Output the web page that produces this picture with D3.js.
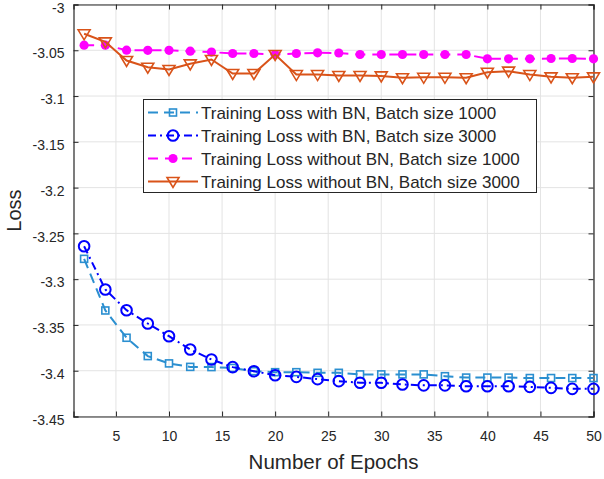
<!DOCTYPE html>
<html><head><meta charset="utf-8">
<script src="https://cdn.jsdelivr.net/npm/d3@7"></script>
<style>body{margin:0;background:#fff;} svg{display:block;font-family:"Liberation Sans",Arial,sans-serif;}</style>
</head><body><svg id="c" width="604" height="479"></svg>
<script>
const epochs = [2,4,6,8,10,12,14,16,18,20,22,24,26,28,30,32,34,36,38,40,42,44,46,48,50];
const bn1000 = [-3.2778,-3.3342,-3.364,-3.384,-3.392,-3.3958,-3.396,-3.397,-3.4005,-3.4016,-3.4016,-3.4023,-3.4023,-3.404,-3.404,-3.404,-3.404,-3.406,-3.4075,-3.4075,-3.4075,-3.408,-3.408,-3.408,-3.408];
const bn3000 = [-3.264,-3.3113,-3.3339,-3.3484,-3.3623,-3.3768,-3.3877,-3.3961,-3.4005,-3.4049,-3.4067,-3.4092,-3.4114,-3.4132,-3.4132,-3.415,-3.416,-3.416,-3.4169,-3.417,-3.417,-3.4176,-3.4187,-3.4198,-3.4198];
const noBn1000 = [-3.0444,-3.0444,-3.0499,-3.050,-3.050,-3.051,-3.052,-3.0535,-3.0535,-3.0546,-3.0535,-3.0528,-3.053,-3.0546,-3.0546,-3.0546,-3.0546,-3.0546,-3.0546,-3.0593,-3.0593,-3.0593,-3.059,-3.059,-3.0593];
const noBn3000 = [-3.032,-3.0408,-3.0612,-3.0685,-3.071,-3.0648,-3.0601,-3.0754,-3.0754,-3.0546,-3.0765,-3.0765,-3.0775,-3.0775,-3.078,-3.080,-3.0795,-3.0795,-3.080,-3.074,-3.0728,-3.0765,-3.079,-3.080,-3.079];
const xTicks = [5,10,15,20,25,30,35,40,45,50];
const yTicks = [-3,-3.05,-3.1,-3.15,-3.2,-3.25,-3.3,-3.35,-3.4,-3.45];
const seriesNames = ["Training Loss with BN, Batch size 1000","Training Loss with BN, Batch size 3000","Training Loss without BN, Batch size 1000","Training Loss without BN, Batch size 3000"];
const xLabel = "Number of Epochs", yLabel = "Loss";

const L=73.5, R=593.5, T=4.5, B=416.5;
const svg = d3.select("#c");
const x = d3.scaleLinear().domain([1,50]).range([L,R]);
const y = d3.scaleLinear().domain([-3.45,-3]).range([B,T]);
const axisCol = "#262626";

// grid
const g = svg.append("g");
g.selectAll(".gx").data(xTicks).join("line").attr("x1",d=>x(d)).attr("x2",d=>x(d)).attr("y1",T).attr("y2",B).attr("stroke","#e3e3e3").attr("stroke-width",1);
g.selectAll(".gy").data(yTicks).join("line").attr("x1",L).attr("x2",R).attr("y1",d=>y(d)).attr("y2",d=>y(d)).attr("stroke","#e3e3e3").attr("stroke-width",1);

// axes (ticks inward)
const fmt = d=>String(d);
const ax = svg.append("g").attr("transform",`translate(0,${B})`).call(d3.axisBottom(x).tickValues(xTicks).tickSize(-5).tickPadding(15).tickFormat(fmt));
const axT = svg.append("g").attr("transform",`translate(0,${T})`).call(d3.axisTop(x).tickValues(xTicks).tickSize(-5).tickFormat(""));
const ay = svg.append("g").attr("transform",`translate(${L},0)`).call(d3.axisLeft(y).tickValues(yTicks).tickSize(-5).tickPadding(9).tickFormat(fmt));
const ayR = svg.append("g").attr("transform",`translate(${R},0)`).call(d3.axisRight(y).tickValues(yTicks).tickSize(-5).tickFormat(""));
[ax,axT,ay,ayR].forEach(a=>{
  a.selectAll("path").attr("stroke",axisCol).attr("stroke-width",1.2);
  a.selectAll("line").attr("stroke",axisCol);
  a.selectAll("text").attr("fill",axisCol).style("font-size","14px").style("font-family","'Liberation Sans',Arial,sans-serif");
});
ay.selectAll("text").attr("dy","0.55em");

// labels
svg.append("text").attr("x",(L+R)/2).attr("y",469).attr("text-anchor","middle").attr("fill",axisCol).style("font-size","20.5px").text(xLabel);
svg.append("text").attr("transform",`translate(21,${(T+B)/2}) rotate(-90)`).attr("text-anchor","middle").attr("fill",axisCol).style("font-size","20px").text(yLabel);

const styles = [
  {data:bn1000, color:"#2b8fd0", dash:"10,6", marker:"square"},
  {data:bn3000, color:"#0000ff", dash:"8,4,2,4", marker:"circle"},
  {data:noBn1000, color:"#ff00ff", dash:"10,7", marker:"dot"},
  {data:noBn3000, color:"#d95319", dash:null, marker:"tri"}
];
const line = d3.line().x(d=>x(d[0])).y(d=>y(d[1]));
function drawMarker(sel, type, color){
  if(type==="square"){
    sel.append("rect").attr("x",-3.5).attr("y",-3.5).attr("width",7).attr("height",7).attr("fill","none").attr("stroke",color).attr("stroke-width",1.6);
  } else if(type==="circle"){
    sel.append("circle").attr("r",5.3).attr("fill","none").attr("stroke",color).attr("stroke-width",2);
  } else if(type==="dot"){
    sel.append("circle").attr("r",4.6).attr("fill",color);
  } else {
    sel.append("path").attr("d","M-6,-4L6,-4L0,6Z").attr("fill","none").attr("stroke",color).attr("stroke-width",1.6);
  }
}
const plot = svg.append("g");
styles.forEach(s=>{
  const pts = epochs.map((e,i)=>[e,s.data[i]]);
  plot.append("path").attr("d",line(pts)).attr("fill","none").attr("stroke",s.color).attr("stroke-width",2).attr("stroke-dasharray",s.dash);
  pts.forEach(p=>{
    const m = plot.append("g").attr("transform",`translate(${x(p[0])},${y(p[1])})`);
    drawMarker(m,s.marker,s.color);
  });
});

// legend
const lg = svg.append("g");
lg.append("rect").attr("x",143.5).attr("y",99.5).attr("width",393).attr("height",93).attr("fill","#fff").attr("stroke",axisCol).attr("stroke-width",1);
const rowsY = [112.5,135.5,158.5,181.5];
styles.forEach((s,i)=>{
  const yy = rowsY[i];
  lg.append("line").attr("x1",148).attr("x2",198).attr("y1",yy).attr("y2",yy).attr("stroke",s.color).attr("stroke-width",2).attr("stroke-dasharray",s.dash);
  const m = lg.append("g").attr("transform",`translate(173,${yy})`);
  drawMarker(m,s.marker,s.color);
  lg.append("text").attr("x",201).attr("y",yy+6).attr("fill",axisCol).style("font-size","17px").text(seriesNames[i]);
});
</script></body></html>
